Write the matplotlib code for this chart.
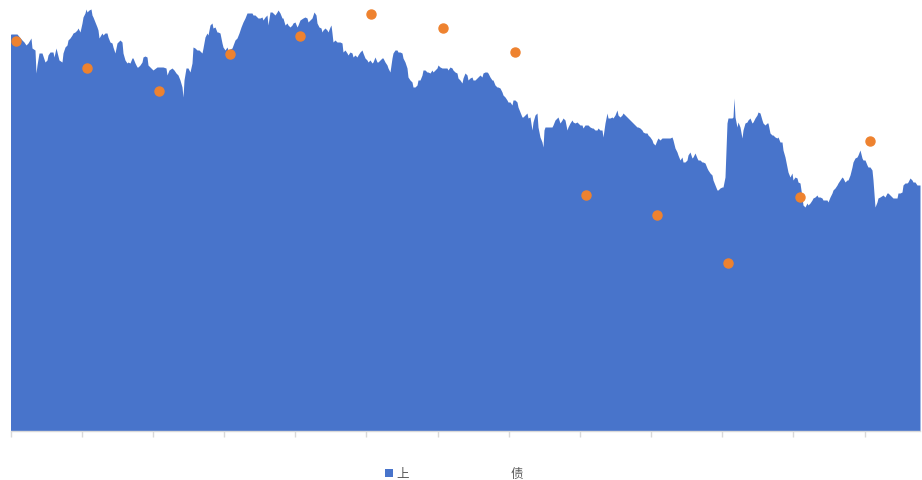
import numpy as np
import matplotlib.pyplot as plt
from matplotlib.patches import Patch
from matplotlib.lines import Line2D

plt.rcParams['font.family'] = ['Noto Sans CJK SC', 'DejaVu Sans']

# series names (legend)
area_name = "上"
dot_name = "债"

# area series: (day index, value)
area_a = [(0, 396), (1, 397), (7, 397), (12, 391), (14, 389), (16, 386), (18, 388), (21, 393),
          (22, 383), (25, 381), (26, 358), (27, 366), (29, 378), (32, 378), (35, 369), (37, 371),
          (38, 376), (40, 379), (43, 379), (44, 374), (46, 383), (47, 379), (49, 371), (52, 369),
          (53, 378), (55, 384), (57, 386), (58, 391), (60, 393), (62, 396), (63, 398), (65, 399),
          (67, 401), (68, 403), (70, 399), (72, 408), (73, 414), (75, 418), (76, 422), (77, 419),
          (79, 421), (81, 422), (82, 416), (83, 414), (85, 409), (87, 404), (88, 401), (89, 393),
          (92, 398), (93, 396), (95, 398), (97, 398), (98, 394), (100, 389), (102, 388), (103, 384),
          (105, 378), (107, 388), (108, 389), (110, 391), (112, 389), (113, 378), (115, 371), (117, 368),
          (118, 369), (120, 368), (122, 373), (123, 373), (125, 368), (127, 364), (128, 364), (130, 366),
          (132, 369), (133, 374), (135, 375), (137, 374), (138, 366)]
area_b = [(140, 364), (143, 361), (147, 364), (153, 364), (156, 363), (157, 356), (159, 361), (162, 363),
          (164, 361), (166, 358), (168, 356), (170, 351), (172, 344), (173, 334), (174, 351), (176, 363),
          (178, 363), (180, 359), (182, 368), (183, 384), (185, 383), (187, 381), (189, 381), (192, 378),
          (193, 383), (195, 394), (197, 398), (198, 396), (200, 406), (202, 408), (203, 403), (205, 404),
          (207, 399), (208, 399), (210, 398), (212, 388), (213, 384), (215, 381), (217, 384), (218, 381),
          (222, 383), (225, 391), (227, 393), (229, 398), (231, 404), (233, 409), (235, 413), (237, 418),
          (240, 418), (242, 418), (243, 416), (245, 416), (247, 414), (248, 413), (250, 413), (252, 414),
          (253, 411), (255, 414), (257, 416), (258, 406), (260, 419), (262, 419), (263, 418), (265, 416),
          (267, 419), (268, 421), (270, 418), (272, 413), (273, 413), (275, 406), (277, 408), (278, 406),
          (280, 404), (282, 406), (283, 408), (285, 409), (287, 404), (288, 406)]
area_c = [(290, 411), (293, 413), (295, 414), (297, 413), (298, 409), (300, 411), (302, 413), (303, 416),
          (304, 419), (306, 416), (307, 408), (309, 404), (311, 403), (312, 399), (313, 401), (315, 403),
          (317, 401), (318, 399), (320, 404), (321, 406), (322, 398), (323, 389), (325, 391), (327, 389),
          (330, 389), (332, 388), (333, 379), (335, 381), (337, 378), (338, 376), (340, 379), (342, 378),
          (343, 374), (345, 376), (347, 374), (348, 376), (350, 379), (352, 381), (353, 378), (355, 373),
          (357, 371), (358, 369), (360, 371), (362, 368), (363, 369), (365, 374), (367, 369), (368, 369),
          (370, 371), (372, 373), (373, 373), (375, 369), (377, 366), (378, 363), (380, 359), (382, 373),
          (383, 378), (385, 381), (387, 381), (388, 379), (390, 379), (392, 378), (393, 373), (395, 369),
          (397, 363), (398, 354), (400, 351), (402, 349), (403, 344), (405, 344), (407, 346), (408, 351),
          (410, 351), (412, 356), (413, 361), (415, 361), (417, 359), (418, 359), (420, 358), (422, 361),
          (423, 359), (425, 361), (427, 363), (428, 366), (430, 364), (432, 363), (433, 363), (437, 363),
          (438, 361)]
area_d = [(440, 364), (442, 363), (443, 361), (445, 359), (447, 358), (448, 353), (450, 351), (452, 348),
          (453, 353), (455, 358), (457, 356), (458, 351), (460, 353), (462, 354), (463, 351), (465, 351),
          (467, 353), (468, 354), (470, 356), (472, 354), (473, 358), (475, 359), (477, 359), (478, 358),
          (480, 354), (482, 351), (483, 351), (485, 346), (487, 344), (488, 344), (490, 343), (492, 339),
          (493, 336), (495, 334), (497, 331), (498, 329), (500, 329), (502, 326), (503, 331), (505, 331),
          (507, 329), (508, 324), (510, 319), (512, 314), (513, 314), (515, 316), (517, 318), (518, 313),
          (520, 314), (522, 301), (523, 309), (525, 316), (527, 318), (528, 304), (530, 294), (532, 289),
          (533, 284), (534, 301), (535, 304), (537, 304), (540, 304), (542, 304), (543, 306), (545, 311),
          (547, 313), (548, 314), (550, 308), (552, 311), (553, 313), (555, 311), (557, 301), (558, 304),
          (560, 308), (562, 311), (563, 309), (565, 308), (567, 309), (568, 308), (570, 306), (572, 306),
          (573, 303), (575, 306), (577, 306), (578, 306), (580, 304), (582, 303), (583, 303), (585, 301),
          (587, 301), (588, 303)]
area_e = [(590, 301), (592, 301), (593, 294), (595, 308), (597, 318), (598, 313), (600, 313), (602, 314),
          (603, 313), (605, 316), (607, 321), (608, 316), (610, 314), (612, 316), (613, 318), (615, 316),
          (617, 314), (618, 313), (620, 311), (622, 309), (623, 308), (625, 306), (627, 304), (628, 304),
          (630, 303), (632, 301), (633, 299), (635, 298), (637, 298), (638, 296), (640, 294), (642, 291),
          (643, 288), (645, 286), (647, 291), (648, 293), (650, 291), (652, 293), (653, 293), (657, 293),
          (660, 293), (662, 294), (663, 291), (665, 283), (667, 279), (668, 276), (670, 271), (672, 274),
          (673, 269), (675, 269), (677, 271), (678, 276), (680, 279), (682, 273), (683, 274), (685, 278),
          (687, 273), (688, 271), (690, 271), (692, 269), (693, 269), (695, 268), (697, 263), (698, 261),
          (700, 258), (702, 256), (703, 251), (705, 246), (707, 241), (708, 241), (710, 243), (712, 244),
          (713, 244), (715, 254), (716, 281), (717, 308), (718, 313), (720, 313), (722, 313), (723, 314),
          (724, 333), (725, 314), (727, 304), (728, 309), (730, 304), (732, 293), (733, 301), (735, 308),
          (737, 309), (738, 311), (740, 313), (742, 308), (743, 309), (745, 313), (747, 316), (748, 319)]
area_f = [(750, 318), (752, 311), (753, 308), (755, 306), (757, 308), (758, 308), (760, 298), (762, 296),
          (763, 296), (765, 294), (767, 293), (768, 294), (770, 289), (772, 289), (773, 281), (775, 274),
          (777, 264), (778, 259), (780, 254), (782, 258), (783, 251), (785, 254), (787, 253), (788, 249),
          (790, 248), (792, 234), (793, 226), (795, 224), (797, 228), (798, 226), (800, 228), (802, 231),
          (803, 233), (805, 234), (807, 236), (808, 234), (810, 234), (812, 233), (813, 231), (815, 231),
          (817, 231), (818, 229), (820, 234), (822, 238), (823, 241), (825, 243), (827, 246), (828, 248),
          (830, 251), (832, 254), (833, 253), (835, 249), (837, 251), (838, 251), (840, 256), (842, 264),
          (843, 269), (845, 273), (847, 274), (848, 276), (850, 281), (852, 273), (853, 271), (855, 271),
          (857, 266), (858, 264), (860, 264), (862, 261), (863, 251), (865, 224), (867, 229), (868, 233),
          (870, 234), (873, 236), (875, 234), (877, 238), (878, 238), (880, 236), (882, 234), (883, 233),
          (885, 233), (887, 233), (888, 238), (890, 238), (892, 239), (893, 246), (895, 248), (897, 248),
          (898, 249), (900, 253), (902, 251), (903, 249), (905, 249), (907, 246), (908, 246), (910, 246)]

# dot series
dot_days = [6, 77, 149, 220, 290, 361, 433, 505, 576, 647, 718, 790, 860]
dot_vals = [390, 363, 340, 377, 395, 417, 403, 379, 236, 216, 168, 234, 290]

blue = "#4874CB"
orange = "#EE822F"

trace = area_a + area_b + area_c + area_d + area_e + area_f
days = np.array([p[0] for p in trace])
vals = np.array([p[1] for p in trace])

fig = plt.figure(figsize=(9.22, 4.80), dpi=100)
ax = fig.add_axes([10.6 / 922, 49 / 480, 909.4 / 922, 430 / 480])

ax.fill_between(days, 0, vals, color=blue, linewidth=0)
ax.plot(dot_days, dot_vals, linestyle='none', marker='o', markersize=6.5,
        color=orange, zorder=3, clip_on=False)

ax.set_xlim(0.6, 910)
ax.set_ylim(0, 430)

for s in ['top', 'right', 'left']:
    ax.spines[s].set_visible(False)
ax.spines['bottom'].set_color('#d9d9d9')
ax.spines['bottom'].set_linewidth(1)

ax.set_xticks(np.arange(0.6, 910, 71.16))
ax.set_xticklabels([])
ax.set_yticks([])
ax.tick_params(axis='x', length=4, color='#d9d9d9', width=1)

handles = [Patch(facecolor=blue, edgecolor='none', label=area_name),
           Line2D([], [], linestyle='none', marker=None, label=dot_name)]
fig.legend(handles=handles, loc='center', bbox_to_anchor=(454 / 922, 1 - 474 / 480),
           ncol=2, frameon=False, fontsize=9, labelcolor='#595959',
           handlelength=0.64, handleheight=0.64, handletextpad=0.25, columnspacing=7.2)

fig.savefig("out.png", dpi=100)
